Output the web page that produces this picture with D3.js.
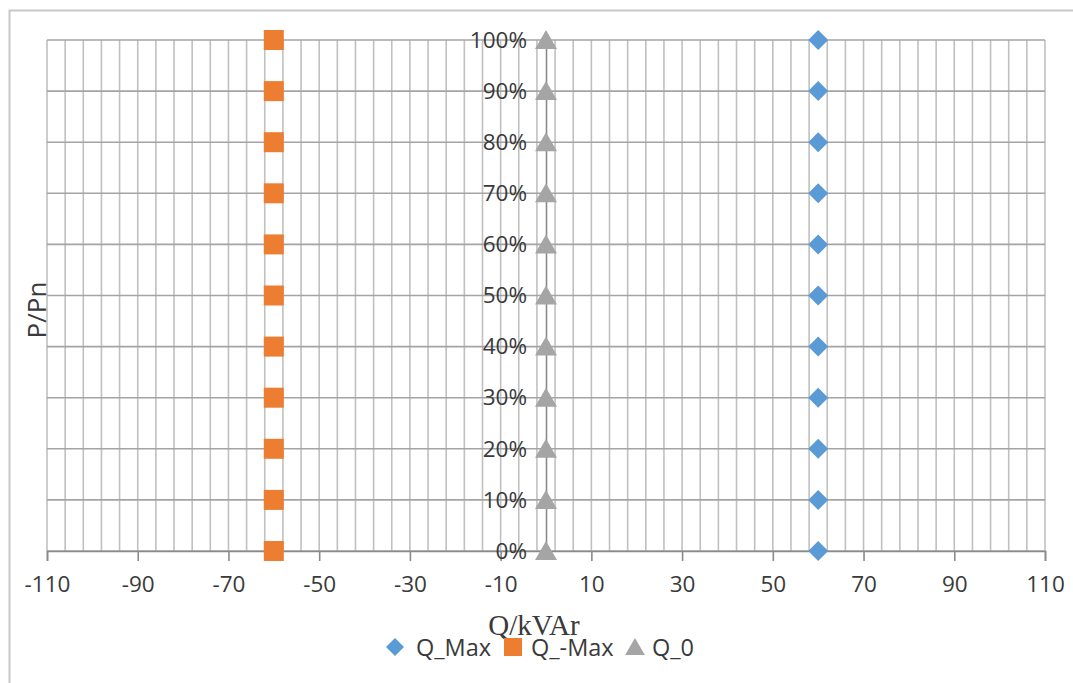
<!DOCTYPE html>
<html>
<head>
<meta charset="utf-8">
<script src="https://cdn.jsdelivr.net/npm/d3@7"></script>
<style>
  html, body { margin: 0; padding: 0; background: #fff; }
  svg { display: block; }
</style>
</head>
<body>
<svg id="chart" width="1073" height="683"></svg>
<script>
// ---- data ----
const pLevels   = [0, 0.1, 0.2, 0.3, 0.4, 0.5, 0.6, 0.7, 0.8, 0.9, 1.0];
const qMax      = [60, 60, 60, 60, 60, 60, 60, 60, 60, 60, 60];
const qNegMax   = [-60, -60, -60, -60, -60, -60, -60, -60, -60, -60, -60];
const q0        = [0, 0, 0, 0, 0, 0, 0, 0, 0, 0, 0];
const xTickLabels = [-110, -90, -70, -50, -30, -10, 10, 30, 50, 70, 90, 110];
const yTickLabels = ["0%", "10%", "20%", "30%", "40%", "50%", "60%", "70%", "80%", "90%", "100%"];
const seriesNames = ["Q_Max", "Q_-Max", "Q_0"];
const seriesColors = ["#5B9BD5", "#ED7D31", "#A5A5A5"];

const svg = d3.select("#chart");
const x = d3.scaleLinear().domain([-110, 110]).range([47, 1045]);
const y = d3.scaleLinear().domain([0, 1]).range([551, 40]);

// outer border
svg.append("rect").attr("x", 9.5).attr("y", 10.5).attr("width", 1100).attr("height", 700)
  .attr("fill", "none").attr("stroke", "#c8c8c8").attr("stroke-width", 2);

// vertical minor gridlines (every 4)
const minor = d3.range(-110, 110.1, 4);
svg.append("g").selectAll("line").data(minor).join("line")
  .attr("x1", d => x(d)).attr("x2", d => x(d))
  .attr("y1", y(1)).attr("y2", y(0))
  .attr("stroke", "#c0c0c0").attr("stroke-width", 1.6);

// horizontal gridlines
svg.append("g").selectAll("line").data(pLevels).join("line")
  .attr("x1", x(-110)).attr("x2", x(110))
  .attr("y1", d => y(d)).attr("y2", d => y(d))
  .attr("stroke", "#a4a4a4").attr("stroke-width", 1.6);

const fontSans = "'Open Sans', sans-serif";

// x axis
const xAxis = d3.axisBottom(x).tickValues(xTickLabels).tickSize(10).tickPadding(15).tickFormat(d3.format("d"));
const gx = svg.append("g").attr("transform", `translate(0,${y(0)})`).call(xAxis);
gx.select(".domain").attr("stroke", "#8a8a8a").attr("stroke-width", 1.6);
gx.selectAll(".tick line").attr("stroke", "#8a8a8a").attr("stroke-width", 1.6);
gx.selectAll(".tick text").attr("fill", "#3a3a3a")
  .style("font-family", fontSans).style("font-size", "22.5px")
  .text(d => d < 0 ? "-" + Math.abs(d) : d);

// y axis at x=0
const yAxis = d3.axisLeft(y).tickValues(pLevels).tickSize(0).tickPadding(19)
  .tickFormat((d, i) => yTickLabels[i]);
const gy = svg.append("g").attr("transform", `translate(${x(0)},0)`).call(yAxis);
gy.select(".domain").attr("stroke", "#8a8a8a").attr("stroke-width", 1.6);
gy.selectAll(".tick text").attr("fill", "#3a3a3a")
  .style("font-family", fontSans).style("font-size", "22.5px");

// series markers
function markerPath(i, size) {
  if (i === 0) return `M0,${-size/2}L${size/2},0L0,${size/2}L${-size/2},0Z`;
  if (i === 1) return `M${-size/2},${-size/2}H${size/2}V${size/2}H${-size/2}Z`;
  return `M0,${-size*0.5}L${size*0.55},${size*0.45}L${-size*0.55},${size*0.45}Z`;
}
const series = [qMax, qNegMax, q0];
series.forEach((vals, si) => {
  svg.append("g").selectAll("path").data(vals.map((v, i) => [v, pLevels[i]])).join("path")
    .attr("transform", d => `translate(${x(d[0])},${y(d[1])})`)
    .attr("d", markerPath(si, 20))
    .attr("fill", seriesColors[si]);
});

// axis titles
svg.append("text").attr("x", 534).attr("y", 635).attr("text-anchor", "middle")
  .style("font-family", "'Liberation Serif', 'Times New Roman', serif").style("font-size", "29px")
  .attr("fill", "#3a3a3a").text("Q/kVAr");

svg.append("text").attr("transform", "translate(46,310) rotate(-90)").attr("text-anchor", "middle")
  .style("font-family", fontSans).style("font-size", "26px")
  .attr("fill", "#3a3a3a").text("P/Pn");

// legend
const legend = [
  { name: seriesNames[0], mx: 395, tx: 416 },
  { name: seriesNames[1], mx: 513, tx: 531 },
  { name: seriesNames[2], mx: 635, tx: 652 }
];
legend.forEach((d, i) => {
  svg.append("path").attr("transform", `translate(${d.mx},647)`).attr("d", markerPath(i, 18))
    .attr("fill", seriesColors[i]);
  svg.append("text").attr("x", d.tx).attr("y", 656)
    .style("font-family", fontSans).style("font-size", "23.5px")
    .attr("fill", "#3a3a3a").text(d.name);
});
</script>
</body>
</html>
